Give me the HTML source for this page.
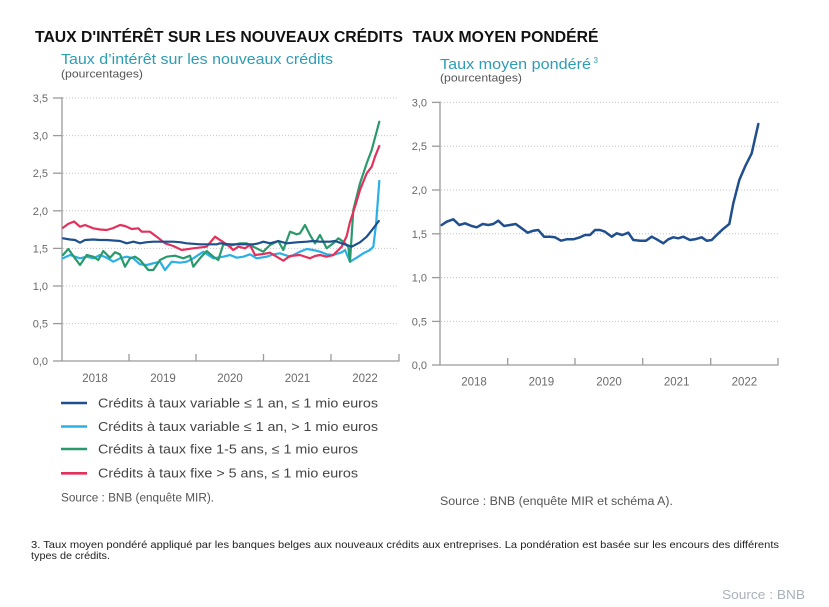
<!DOCTYPE html>
<html><head><meta charset="utf-8"><style>
html,body{margin:0;padding:0;background:#fff;}
svg{display:block;}
text{font-family:"Liberation Sans",Arial,sans-serif;}
</style></head><body>
<svg width="829" height="607" viewBox="0 0 829 607" xmlns="http://www.w3.org/2000/svg">
<rect width="829" height="607" fill="#fff"/>
<!-- Titles -->
<text x="35" y="42" font-size="16" font-weight="bold" fill="#111" textLength="368" lengthAdjust="spacingAndGlyphs">TAUX D'INTÉRÊT SUR LES NOUVEAUX CRÉDITS</text>
<text x="412.5" y="42" font-size="16" font-weight="bold" fill="#111" textLength="186" lengthAdjust="spacingAndGlyphs">TAUX MOYEN PONDÉRÉ</text>

<text x="61" y="64" font-size="14.5" fill="#2d9db3" textLength="272" lengthAdjust="spacingAndGlyphs">Taux d’intérêt sur les nouveaux crédits</text>
<text x="61" y="77.5" font-size="11" fill="#555" textLength="82" lengthAdjust="spacingAndGlyphs">(pourcentages)</text>
<text x="440" y="69" font-size="14.5" fill="#2d9db3" textLength="151" lengthAdjust="spacingAndGlyphs">Taux moyen pondéré</text>
<text x="593.5" y="63" font-size="8" fill="#2d9db3">3</text>
<text x="440" y="81.5" font-size="11" fill="#555" textLength="82" lengthAdjust="spacingAndGlyphs">(pourcentages)</text>

<!-- LEFT CHART -->
<g stroke="#c4c4c4" stroke-width="1" stroke-dasharray="1 2">
<line x1="63" y1="98" x2="399" y2="98"/>
<line x1="63" y1="135.6" x2="399" y2="135.6"/>
<line x1="63" y1="173.2" x2="399" y2="173.2"/>
<line x1="63" y1="210.8" x2="399" y2="210.8"/>
<line x1="63" y1="248.4" x2="399" y2="248.4"/>
<line x1="63" y1="286" x2="399" y2="286"/>
<line x1="63" y1="323.6" x2="399" y2="323.6"/>
</g>
<g stroke="#9a9a9a" stroke-width="1.3" fill="none">
<line x1="62" y1="97" x2="62" y2="361"/>
<line x1="62" y1="361" x2="399.5" y2="361"/>
<line x1="53" y1="98" x2="62" y2="98"/>
<line x1="53" y1="135.6" x2="62" y2="135.6"/>
<line x1="53" y1="173.2" x2="62" y2="173.2"/>
<line x1="53" y1="210.8" x2="62" y2="210.8"/>
<line x1="53" y1="248.4" x2="62" y2="248.4"/>
<line x1="53" y1="286" x2="62" y2="286"/>
<line x1="53" y1="323.6" x2="62" y2="323.6"/>
<line x1="53" y1="361" x2="62" y2="361"/>
<line x1="129" y1="354" x2="129" y2="361"/>
<line x1="196" y1="354" x2="196" y2="361"/>
<line x1="263.5" y1="354" x2="263.5" y2="361"/>
<line x1="331" y1="354" x2="331" y2="361"/>
<line x1="399" y1="354" x2="399" y2="361"/>
</g>
<g font-size="11" fill="#6a6a6a" text-anchor="end">
<text x="48" y="102">3,5</text>
<text x="48" y="139.6">3,0</text>
<text x="48" y="177.2">2,5</text>
<text x="48" y="214.8">2,0</text>
<text x="48" y="252.4">1,5</text>
<text x="48" y="290">1,0</text>
<text x="48" y="327.6">0,5</text>
<text x="48" y="365">0,0</text>
</g>
<g font-size="11.5" fill="#6a6a6a" text-anchor="middle">
<text x="95" y="382">2018</text>
<text x="163" y="382">2019</text>
<text x="230" y="382">2020</text>
<text x="297.5" y="382">2021</text>
<text x="365" y="382">2022</text>
</g>

<g fill="none" stroke-width="2.2" stroke-linejoin="round" stroke-linecap="round">
<!-- light blue -->
<polyline stroke="#2bb0e6" points="63,258.3 70,255 80,258.3 86.7,256.7 93.3,258.3 100,255 106.7,257.7 113.3,261.7 120,258.3 126.7,256.7 133.3,258.3 140,264.3 146.7,265 153.3,263.3 160,261.7 165,270 171.7,261.7 180,262.7 186.7,261.7 193.3,258.3 203.3,251.7 213.3,258.3 223.3,256.7 230,255 236.7,257.7 243.3,256.7 250,254.3 256.7,258.3 266.7,256.7 273.3,254.3 280,253.3 285,255 290,256.7 300,251.7 306.7,249 313.3,250 320,251.7 326.7,254.3 333.3,255 341.7,252.3 345,250 350,261.7 356.7,257.7 363.3,253.3 370,250 373.3,246.7 376,225 379.3,181"/>
<!-- green -->
<polyline stroke="#2a9a6c" points="63,255 68.3,249 75,258.3 80,265 86.7,255 93.3,256.7 98.3,260 103.3,251 110,257.7 115,252.3 120,254.3 125,266.7 130,258.3 135,256.7 140,260 148.3,270 153.3,270 160,260 166.7,256.7 175,255.7 183.3,258.3 190,255.7 193.3,266.7 200,258.3 206.7,251 213.3,256.7 218.3,260 223.3,244.3 230,245.7 240,243.3 246.7,243.3 253.3,246.7 263.3,251.7 270,245 278.3,241 283.3,250 290,231.7 296.7,234.3 300,233.3 305,225 310,235 315,243.3 320,235 326.7,248.3 333.3,243.3 338.3,238.3 343.3,241.7 348.3,246.7 350,261.7 353.3,210 360,183.3 366.7,163.3 371.7,150 379.3,121.7"/>
<!-- red -->
<polyline stroke="#e2325c" points="63,227.7 68,224 74,221.5 80,226.7 85,225 93.3,228.3 100,229.5 106.7,230 113.3,228 120,225 125,226 131.7,229 138.3,228.3 141.7,231.7 150,231.7 156.7,236.7 165,243.3 173.3,246 181.7,250 193.3,248.3 206.7,246.7 215,236.7 225,243.3 230,247 233.3,250 238.3,246.7 245,248.3 250,245 255,255 263.3,254 270,252.7 276.7,256.7 283.3,260.7 290,256 300,255 306,257 310,258.3 315,256 320,255 326.7,256.7 333.3,255 341.7,246.7 346.7,236 350,222 355,206.7 360,190 366.7,173.3 371.7,166.7 375,156.7 379.3,146"/>
<!-- dark blue -->
<polyline stroke="#1e4f8e" points="63,238.3 70,239.5 75,240 80,242.7 85,240 93.3,239.5 100,240 106.7,240 113.3,240.5 120,241 126.7,243.3 133.3,241.7 140,243.3 146.7,242.2 153.3,241.7 160,241.7 166.7,241.7 173.3,241.7 180,242.2 186.7,243.3 193.3,243.8 200,244.3 210,244.3 216.7,244.3 220,243.3 230,244.3 240,244.3 253.3,244.3 258,243.5 263.3,241.7 270,243.3 278.3,241 286.7,243.3 296.7,242.3 306.7,241.7 313.3,241 320,241.7 330,241.7 335,241 341.7,243.3 351.7,246.7 360,242.3 366.7,236.7 373.3,228.3 378.8,221"/>
</g>

<!-- Legend -->
<g stroke-width="2.6">
<line x1="61" y1="403" x2="87" y2="403" stroke="#1e4f8e"/>
<line x1="61" y1="426.5" x2="87" y2="426.5" stroke="#2bb0e6"/>
<line x1="61" y1="449" x2="87" y2="449" stroke="#2a9a6c"/>
<line x1="61" y1="473.3" x2="87" y2="473.3" stroke="#e2325c"/>
</g>
<g font-size="13" fill="#444">
<text x="98" y="407.3" textLength="280" lengthAdjust="spacingAndGlyphs">Crédits à taux variable ≤ 1 an, ≤ 1 mio euros</text>
<text x="98" y="430.8" textLength="280" lengthAdjust="spacingAndGlyphs">Crédits à taux variable ≤ 1 an, &gt; 1 mio euros</text>
<text x="98" y="453.3" textLength="260" lengthAdjust="spacingAndGlyphs">Crédits à taux fixe 1-5 ans, ≤ 1 mio euros</text>
<text x="98" y="477.6" textLength="260" lengthAdjust="spacingAndGlyphs">Crédits à taux fixe &gt; 5 ans, ≤ 1 mio euros</text>
</g>
<text x="61" y="501.5" font-size="11.5" fill="#555" textLength="153" lengthAdjust="spacingAndGlyphs">Source : BNB (enquête MIR).</text>

<!-- RIGHT CHART -->
<g stroke="#c4c4c4" stroke-width="1" stroke-dasharray="1 2">
<line x1="441" y1="102.4" x2="778" y2="102.4"/>
<line x1="441" y1="146.2" x2="778" y2="146.2"/>
<line x1="441" y1="190" x2="778" y2="190"/>
<line x1="441" y1="233.8" x2="778" y2="233.8"/>
<line x1="441" y1="277.6" x2="778" y2="277.6"/>
<line x1="441" y1="321.4" x2="778" y2="321.4"/>
</g>
<g stroke="#9a9a9a" stroke-width="1.3" fill="none">
<line x1="440" y1="101.5" x2="440" y2="365"/>
<line x1="440" y1="365" x2="778.5" y2="365"/>
<line x1="432" y1="102.4" x2="440" y2="102.4"/>
<line x1="432" y1="146.2" x2="440" y2="146.2"/>
<line x1="432" y1="190" x2="440" y2="190"/>
<line x1="432" y1="233.8" x2="440" y2="233.8"/>
<line x1="432" y1="277.6" x2="440" y2="277.6"/>
<line x1="432" y1="321.4" x2="440" y2="321.4"/>
<line x1="432" y1="365" x2="440" y2="365"/>
<line x1="507.7" y1="358" x2="507.7" y2="365"/>
<line x1="575" y1="358" x2="575" y2="365"/>
<line x1="642.7" y1="358" x2="642.7" y2="365"/>
<line x1="710.7" y1="358" x2="710.7" y2="365"/>
<line x1="778" y1="358" x2="778" y2="365"/>
</g>
<g font-size="11" fill="#6a6a6a" text-anchor="end">
<text x="427" y="106.4">3,0</text>
<text x="427" y="150.2">2,5</text>
<text x="427" y="194">2,0</text>
<text x="427" y="237.8">1,5</text>
<text x="427" y="281.6">1,0</text>
<text x="427" y="325.4">0,5</text>
<text x="427" y="369">0,0</text>
</g>
<g font-size="11.5" fill="#6a6a6a" text-anchor="middle">
<text x="474" y="385.5">2018</text>
<text x="541.4" y="385.5">2019</text>
<text x="609" y="385.5">2020</text>
<text x="676.7" y="385.5">2021</text>
<text x="744.4" y="385.5">2022</text>
</g>
<polyline fill="none" stroke="#1f4f8f" stroke-width="2.5" stroke-linejoin="round" stroke-linecap="round" points="441.7,225 446.7,221.7 453.3,219.3 459.3,225 465,223.3 471.7,226 476.7,227.3 482.7,224 488.3,225 493.3,224 498.3,220.7 504,226 510,225 515.7,224 521.7,228.3 527.7,232.7 533.3,230.7 538.3,230 544,236.7 550,236.7 555,237.3 561,240.7 566.7,239.3 573.3,239.3 580,237.3 585,235 590,235 595,230 600,230 605,231.7 611.7,236.7 616.7,233.3 622.3,235 628.3,232.7 633.3,240 640,240.7 646,240.7 651.7,236.7 656.7,239.3 663.3,243.3 668.3,239.3 673.3,237.3 678.3,238.3 683.3,236.7 690,240 695,239.3 701.7,237.3 706.7,240.7 711.7,240 716.7,235 722.7,229.3 729.3,224 733.3,203.3 739.3,180 745,166.7 751.7,153.3 758.3,124"/>
<text x="440" y="505" font-size="11.5" fill="#555" textLength="233" lengthAdjust="spacingAndGlyphs">Source : BNB (enquête MIR et schéma A).</text>

<!-- Footnote -->
<text x="31" y="548" font-size="10.5" fill="#222" textLength="748" lengthAdjust="spacingAndGlyphs">3. Taux moyen pondéré appliqué par les banques belges aux nouveaux crédits aux entreprises. La pondération est basée sur les encours des différents</text>
<text x="31" y="559" font-size="10.5" fill="#222" textLength="79" lengthAdjust="spacingAndGlyphs">types de crédits.</text>
<text x="722" y="599" font-size="13" fill="#aab1ba" textLength="83" lengthAdjust="spacingAndGlyphs">Source : BNB</text>
</svg>
</body></html>
